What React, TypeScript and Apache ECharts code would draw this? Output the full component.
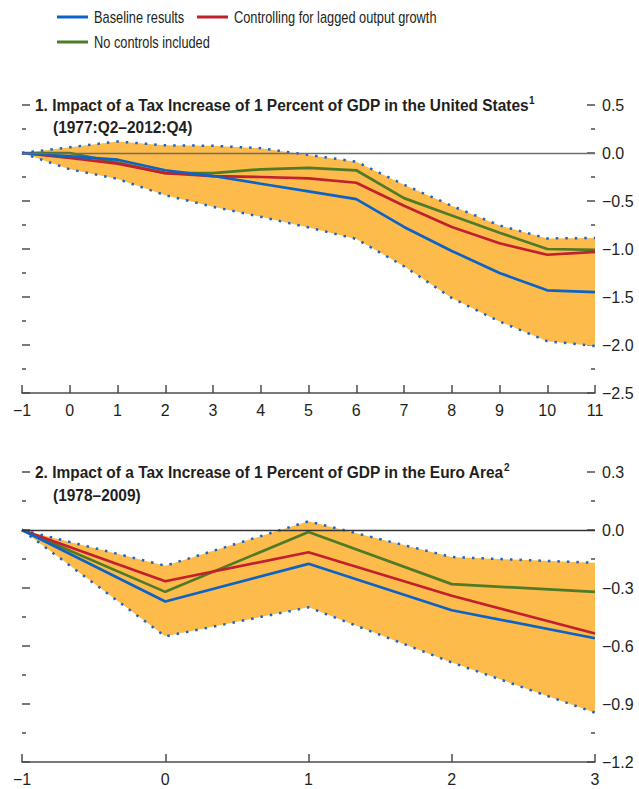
import React, { useEffect, useRef } from "react";
import * as echarts from "echarts";

// ---------- Data ----------
const usSteps = [-1, 0, 1, 2, 3, 4, 5, 6, 7, 8, 9, 10, 11];
const usBaseline = [0, -0.035, -0.07, -0.18, -0.24, -0.32, -0.4, -0.48, -0.77, -1.02, -1.25, -1.43, -1.45];
const usControl = [0, -0.05, -0.11, -0.21, -0.24, -0.25, -0.265, -0.31, -0.55, -0.77, -0.94, -1.06, -1.03];
const usNoControl = [0, 0, -0.1, -0.21, -0.21, -0.17, -0.155, -0.18, -0.47, -0.65, -0.83, -1.0, -1.01];
const usUpper = [0, 0.06, 0.12, 0.08, 0.075, 0.05, -0.02, -0.09, -0.33, -0.55, -0.755, -0.89, -0.885];
const usLower = [0, -0.17, -0.27, -0.44, -0.56, -0.665, -0.775, -0.895, -1.18, -1.51, -1.755, -1.96, -2.01];

const euSteps = [-1, 0, 1, 2, 3];
const euBaseline = [0, -0.37, -0.175, -0.415, -0.56];
const euControl = [0, -0.265, -0.115, -0.34, -0.535];
const euNoControl = [0, -0.32, -0.01, -0.28, -0.32];
const euUpper = [0, -0.185, 0.045, -0.14, -0.17];
const euLower = [0, -0.55, -0.4, -0.685, -0.945];

const legendNames = ["Baseline results", "Controlling for lagged output growth", "No controls included"];
const titleUS1 = "1. Impact of a Tax Increase of 1 Percent of GDP in the United States{sup|1}";
const titleUS2 = "(1977:Q2–2012:Q4)";
const titleEU1 = "2. Impact of a Tax Increase of 1 Percent of GDP in the Euro Area{sup|2}";
const titleEU2 = "(1978–2009)";

// ---------- Styles ----------
const FONT = '"Liberation Sans", Arial, sans-serif';
const ORANGE = "#fdbb4c";
const DOT = "#1766cc";
const BLUE = "#0d62c6";
const RED = "#c1202f";
const GREEN = "#4f7a28";
const AXIS = "#4d4d4d";
const TEXT = "#231f20";

const diffs = (up: number[], lo: number[]) => up.map((u, i) => +(u - lo[i]).toFixed(4));
const fmtY = (v: number) => Number(v).toFixed(1).replace("-", "−");
const fmtX = (v: string) => String(v).replace("-", "−");

function panelSeries(
  idx: number,
  base: number[],
  ctrl: number[],
  noCtrl: number[],
  up: number[],
  lo: number[]
) {
  const stack = "band" + idx;
  const common = { xAxisIndex: idx, yAxisIndex: idx * 2, symbol: "none", silent: true };
  return [
    {
      ...common,
      type: "line",
      name: "lower-base-" + idx,
      data: lo,
      stack,
      stackStrategy: "all",
      lineStyle: { opacity: 0 },
    },
    {
      ...common,
      type: "line",
      name: "band-" + idx,
      data: diffs(up, lo),
      stack,
      stackStrategy: "all",
      lineStyle: { opacity: 0 },
      areaStyle: { color: ORANGE, opacity: 1 },
      markLine: {
        silent: true,
        symbol: "none",
        label: { show: false },
        lineStyle: { color: idx === 0 ? "#6d6d6d" : "#333", width: 1.3, type: "solid" },
        data: [{ yAxis: 0 }],
      },
    },
    {
      ...common,
      type: "line",
      name: "upper-" + idx,
      data: up,
      lineStyle: { color: DOT, width: 2.5, type: [2.5, 7] },
    },
    {
      ...common,
      type: "line",
      name: "lower-" + idx,
      data: lo,
      lineStyle: { color: DOT, width: 2.5, type: [2.5, 7] },
    },
    {
      ...common,
      type: "line",
      name: legendNames[2],
      data: noCtrl,
      lineStyle: { color: GREEN, width: 2.7 },
      itemStyle: { color: GREEN },
    },
    {
      ...common,
      type: "line",
      name: legendNames[1],
      data: ctrl,
      lineStyle: { color: RED, width: 2.7 },
      itemStyle: { color: RED },
    },
    {
      ...common,
      type: "line",
      name: legendNames[0],
      data: base,
      lineStyle: { color: BLUE, width: 2.7 },
      itemStyle: { color: BLUE },
    },
  ];
}

function xAxisCfg(gridIndex: number, steps: number[]) {
  return {
    gridIndex,
    type: "category",
    data: steps.map(String),
    boundaryGap: false,
    axisLine: { show: true, onZero: false, lineStyle: { color: AXIS, width: 1.5 } },
    axisTick: { show: true, inside: true, length: 8, interval: 0, lineStyle: { color: AXIS, width: 1.5 } },
    axisLabel: { formatter: fmtX, fontSize: 16, color: TEXT, margin: 9, fontFamily: FONT, interval: 0 },
    splitLine: { show: false },
  };
}

function yAxisCfg(gridIndex: number, position: string, min: number, max: number, interval: number, labels: boolean) {
  return {
    gridIndex,
    type: "value",
    position,
    min,
    max,
    interval,
    axisLine: { show: false, onZero: false },
    axisTick: { show: true, inside: true, length: 8, lineStyle: { color: AXIS, width: 1.5 } },
    minorTick: { show: true, splitNumber: 2, length: 4, lineStyle: { color: AXIS, width: 1.5 } },
    axisLabel: { show: labels, formatter: fmtY, fontSize: 16, color: TEXT, margin: 7, fontFamily: FONT },
    splitLine: { show: false },
    minorSplitLine: { show: false },
  };
}

const titleText = (text: string, x: number, y: number) => ({
  type: "text",
  x,
  y,
  scaleX: 0.91,
  style: {
    text,
    fontSize: 17,
    fontWeight: "bold",
    fontFamily: FONT,
    fill: TEXT,
    verticalAlign: "middle",
    rich: {
      sup: { fontSize: 11, fontWeight: "bold", fontFamily: FONT, fill: TEXT, verticalAlign: "top", lineHeight: 21 },
    },
  },
});

const legendItem = (name: string, x: number, y: number, color: string) => ({
  type: "group",
  children: [
    { type: "line", shape: { x1: x, y1: y, x2: x + 31, y2: y }, style: { stroke: color, lineWidth: 3 } },
    {
      type: "text",
      x: x + 37,
      y,
      scaleX: 0.8,
      style: { text: name, fontSize: 16, fontFamily: FONT, fill: TEXT, verticalAlign: "middle" },
    },
  ],
});

export default function App() {
  const ref = useRef<HTMLDivElement>(null);
  useEffect(() => {
    if (!ref.current) return;
    const chart = echarts.init(ref.current, null, { renderer: "svg" });
    chart.setOption({
      animation: false,
      backgroundColor: "#ffffff",
      grid: [
        { left: 22, top: 105, width: 573, height: 288 },
        { left: 22, top: 472, width: 573, height: 290 },
      ],
      xAxis: [xAxisCfg(0, usSteps), xAxisCfg(1, euSteps)],
      yAxis: [
        yAxisCfg(0, "left", -2.5, 0.5, 0.5, false),
        yAxisCfg(0, "right", -2.5, 0.5, 0.5, true),
        yAxisCfg(1, "left", -1.2, 0.3, 0.3, false),
        yAxisCfg(1, "right", -1.2, 0.3, 0.3, true),
      ],
      graphic: [
        legendItem(legendNames[0], 57, 17, BLUE),
        legendItem(legendNames[1], 197, 17, RED),
        legendItem(legendNames[2], 57, 42, GREEN),
        titleText(titleUS1, 35, 104.5),
        titleText(titleUS2, 53, 127),
        titleText(titleEU1, 35, 472),
        titleText(titleEU2, 53, 495),
      ],
      series: [
        ...panelSeries(0, usBaseline, usControl, usNoControl, usUpper, usLower),
        ...panelSeries(1, euBaseline, euControl, euNoControl, euUpper, euLower),
      ],
    });
    return () => chart.dispose();
  }, []);
  return (
    <div
      ref={ref}
      style={{ position: "absolute", left: 0, top: 0, width: 639, height: 789, background: "#fff" }}
    />
  );
}
